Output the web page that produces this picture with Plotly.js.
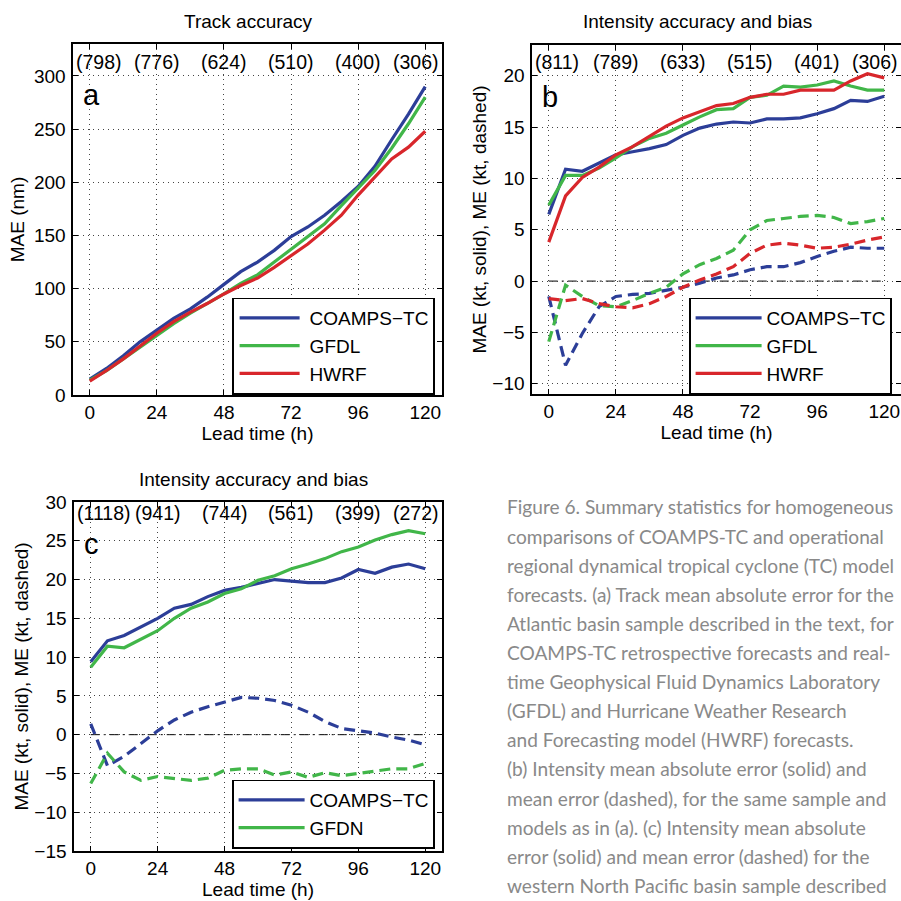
<!DOCTYPE html>
<html>
<head>
<meta charset="utf-8">
<script src="https://cdn.plot.ly/plotly-3.0.1.min.js"></script>
<style>html,body{margin:0;padding:0;background:#fff;}#chart{width:901px;height:901px;}</style>
</head>
<body>
<div id="chart"></div>
<script>
// ---------------- data ----------------
const leadTimes = [0,6,12,18,24,30,36,42,48,54,60,66,72,78,84,90,96,102,108,114,120];
const leadTicks = [0,24,48,72,96,120];

// Panel a: track MAE (nm)
const trackCOAMPS = [15,25,37,50,61,72,81,92,104,116,125,136,149,158,169,182,196,215,240,264,290];
const trackGFDL   = [14,23,34,45,56,67,77,86,95,105,113,125,137,149,161,178,194,211,232,255,280];
const trackHWRF   = [13,23,34,46,58,69,78,86,95,103,110,120,131,142,155,169,188,205,222,233,248];
const countsA = ['(798)','(776)','(624)','(510)','(400)','(306)'];

// Panel b: intensity MAE (solid) and ME (dashed), kt
const maeCOAMPS_b = [6.5,10.9,10.7,11.5,12.3,12.6,12.9,13.3,14.2,14.9,15.3,15.5,15.4,15.8,15.8,15.9,16.3,16.8,17.6,17.5,18.0];
const maeGFDL_b   = [7.4,10.3,10.3,11.0,12.0,13.1,13.9,14.4,15.2,16.0,16.7,16.8,17.9,18.1,19.0,18.9,19.1,19.5,19.0,18.6,18.6];
const maeHWRF_b   = [3.8,8.3,10.1,11.1,12.3,13.1,14.1,15.1,15.9,16.5,17.1,17.3,17.9,18.2,18.2,18.6,18.6,18.6,19.5,20.2,19.8];
const meCOAMPS_b  = [-1.5,-8.2,-5.1,-2.5,-1.5,-1.3,-1.2,-0.9,-0.6,-0.2,0.3,0.6,1.1,1.4,1.4,1.8,2.4,2.9,3.3,3.2,3.2];
const meGFDL_b    = [-5.9,-0.4,-1.5,-2.4,-2.5,-1.9,-1.2,-0.6,0.7,1.6,2.2,3.0,5.0,5.9,6.1,6.3,6.4,6.2,5.6,5.8,6.1];
const meHWRF_b    = [-1.7,-1.9,-1.7,-2.2,-2.5,-2.6,-2.2,-1.5,-0.6,0.1,0.7,1.4,2.7,3.5,3.7,3.5,3.2,3.3,3.6,4.0,4.3];
const countsB = ['(811)','(789)','(633)','(515)','(401)','(306)'];

// Panel c: western North Pacific intensity MAE / ME, kt
const maeCOAMPS_c = [9.4,12.1,12.8,13.9,15.0,16.3,16.8,17.8,18.6,19.0,19.5,20.0,19.8,19.6,19.6,20.2,21.3,20.8,21.6,22.0,21.4];
const maeGFDN_c   = [8.7,11.4,11.2,12.3,13.4,15.0,16.3,17.1,18.2,18.8,19.9,20.5,21.4,22.0,22.7,23.6,24.2,25.1,25.8,26.3,25.9];
const meCOAMPS_c  = [1.4,-4.0,-2.8,-1.1,0.5,1.9,2.9,3.6,4.2,4.8,4.7,4.4,3.8,2.9,1.7,0.8,0.5,0.2,-0.3,-0.7,-1.3];
const meGFDN_c    = [-6.3,-2.4,-4.8,-5.9,-5.4,-5.6,-5.9,-5.6,-4.6,-4.4,-4.4,-5.2,-4.8,-5.5,-4.9,-5.3,-5.0,-4.6,-4.4,-4.4,-3.7];
const countsC = ['(1118)','(941)','(744)','(561)','(399)','(272)'];

const captionLines = [
  'Figure 6. Summary statistics for homogeneous',
  'comparisons of COAMPS-TC and operational',
  'regional dynamical tropical cyclone (TC) model',
  'forecasts. (a) Track mean absolute error for the',
  'Atlantic basin sample described in the text, for',
  'COAMPS-TC retrospective forecasts and real-',
  'time Geophysical Fluid Dynamics Laboratory',
  '(GFDL) and Hurricane Weather Research',
  'and Forecasting model (HWRF) forecasts.',
  '(b) Intensity mean absolute error (solid) and',
  'mean error (dashed), for the same sample and',
  'models as in (a). (c) Intensity mean absolute',
  'error (solid) and mean error (dashed) for the',
  'western North Pacific basin sample described'
];

// ---------------- styles ----------------
const W = 901, H = 901;
const BLUE = '#2c3e98', GREEN = '#41b649', RED = '#d8262b';
const FONT = 'Liberation Sans, Arial, sans-serif';
const LW = 3.2;
const DASH = '11px,6px';
const px = v => v / W;            // horizontal pixel -> paper
const py = v => 1 - v / H;        // vertical pixel -> paper

function line(x, y, color, name, xa, ya, legend, dashed) {
  return {
    type: 'scatter', mode: 'lines', x: x, y: y, name: name,
    xaxis: xa, yaxis: ya, legend: legend,
    showlegend: !dashed,
    line: {color: color, width: LW, dash: dashed ? DASH : 'solid'},
    hoverinfo: 'x+y+name'
  };
}

const traces = [
  line(leadTimes, trackCOAMPS, BLUE,  'COAMPS\u2212TC', 'x',  'y',  'legend',  false),
  line(leadTimes, trackGFDL,   GREEN, 'GFDL',          'x',  'y',  'legend',  false),
  line(leadTimes, trackHWRF,   RED,   'HWRF',          'x',  'y',  'legend',  false),

  line(leadTimes, meCOAMPS_b,  BLUE,  'COAMPS\u2212TC ME', 'x2', 'y2', 'legend2', true),
  line(leadTimes, meGFDL_b,    GREEN, 'GFDL ME',       'x2', 'y2', 'legend2', true),
  line(leadTimes, meHWRF_b,    RED,   'HWRF ME',       'x2', 'y2', 'legend2', true),
  line(leadTimes, maeCOAMPS_b, BLUE,  'COAMPS\u2212TC', 'x2', 'y2', 'legend2', false),
  line(leadTimes, maeGFDL_b,   GREEN, 'GFDL',          'x2', 'y2', 'legend2', false),
  line(leadTimes, maeHWRF_b,   RED,   'HWRF',          'x2', 'y2', 'legend2', false),

  line(leadTimes, meCOAMPS_c,  BLUE,  'COAMPS\u2212TC ME', 'x3', 'y3', 'legend3', true),
  line(leadTimes, meGFDN_c,    GREEN, 'GFDN ME',       'x3', 'y3', 'legend3', true),
  line(leadTimes, maeCOAMPS_c, BLUE,  'COAMPS\u2212TC', 'x3', 'y3', 'legend3', false),
  line(leadTimes, maeGFDN_c,   GREEN, 'GFDN',          'x3', 'y3', 'legend3', false)
];

const tickFont = {family: FONT, size: 19, color: '#000'};
const labelFont = {family: FONT, size: 19, color: '#000'};

function xAxis(domain, anchor) {
  return {
    domain: domain, anchor: anchor, range: [-6, 126],
    tickmode: 'array', tickvals: leadTicks, ticktext: leadTicks.map(String),
    ticks: 'inside', ticklen: 5, tickwidth: 1, tickcolor: '#000',
    showline: true, linecolor: '#000', linewidth: 1.6, mirror: 'ticks',
    showgrid: true, gridcolor: '#444', gridwidth: 1, griddash: '1px,4px',
    zeroline: false, tickfont: tickFont,
    title: {text: 'Lead time (h)', font: labelFont, standoff: 2},
    fixedrange: true
  };
}
function yAxis(domain, anchor, range, dtick, title, standoff) {
  return {
    domain: domain, anchor: anchor, range: range, dtick: dtick, tick0: 0,
    ticks: 'inside', ticklen: 5, tickwidth: 1, tickcolor: '#000',
    showline: true, linecolor: '#000', linewidth: 1.6, mirror: 'ticks',
    showgrid: true, gridcolor: '#444', gridwidth: 1, griddash: '1px,4px',
    zeroline: false, tickfont: tickFont, ticklabelstandoff: 2,
    title: {text: title, font: labelFont, standoff: standoff},
    fixedrange: true
  };
}

const layout = {
  width: W, height: H,
  margin: {l: 0, r: 0, t: 0, b: 0},
  paper_bgcolor: '#fff', plot_bgcolor: '#fff',
  font: {family: FONT, size: 19, color: '#000'},
  xaxis:  xAxis([px(73), px(442)], 'y'),
  yaxis:  yAxis([py(395), py(44)], 'x', [0, 330], 50, 'MAE (nm)', 4),
  xaxis2: xAxis([px(532), px(901)], 'y2'),
  yaxis2: yAxis([py(394), py(45)], 'x2', [-11, 23], 5, 'MAE (kt, solid), ME (kt, dashed)', 1),
  xaxis3: xAxis([px(74), px(442)], 'y3'),
  yaxis3: yAxis([py(851), py(502)], 'x3', [-15, 30], 5, 'MAE (kt, solid), ME (kt, dashed)', 1),
  showlegend: true,
  annotations: [],
  shapes: []
};

const legendStyle = (x, y) => ({
  x: px(x), y: py(y), xanchor: 'left', yanchor: 'middle',
  xref: 'paper', yref: 'paper',
  bgcolor: '#fff', bordercolor: '#000', borderwidth: 1.6,
  font: {family: FONT, size: 19, color: '#000'},
  tracegroupgap: 0, itemwidth: 66, traceorder: 'normal'
});
layout.legend  = legendStyle(232, 346);
layout.legend2 = legendStyle(689, 346);
layout.legend3 = legendStyle(232, 814);

// panel titles
[['Track accuracy', 248, 22], ['Intensity accuracy and bias', 697, 22], ['Intensity accuracy and bias', 253, 479]]
  .forEach(t => layout.annotations.push({text: t[0], x: px(t[1]), y: py(t[2]), xref: 'paper', yref: 'paper',
    xanchor: 'center', yanchor: 'middle', showarrow: false, font: labelFont}));

// sample-size labels along the top of each panel
function counts(labels, xa, ypix) {
  labels.forEach((lab, i) => {
    let x = leadTicks[i], anchor = 'center';
    if (i === 0) { x = -5.5; anchor = 'left'; }
    if (i === labels.length - 1) { x = 125.7; anchor = 'right'; }
    layout.annotations.push({text: lab, x: x, y: py(ypix), xref: xa, yref: 'paper',
      xanchor: anchor, yanchor: 'middle', showarrow: false, font: {family: FONT, size: 19.5, color: '#000'}});
  });
}
counts(countsA, 'x', 62);
counts(countsB, 'x2', 62);
counts(countsC, 'x3', 513);

// panel letters
[['a', 'x', 95], ['b', 'x2', 97], ['c', 'x3', 544]].forEach(l => layout.annotations.push({
  text: l[0], x: -3.3, y: py(l[2]), xref: l[1], yref: 'paper', xanchor: 'left', yanchor: 'middle',
  showarrow: false, font: {family: FONT, size: 29, color: '#000'}}));

// zero reference lines (dash-dot)
[['x2', 'y2'], ['x3', 'y3']].forEach(r => layout.shapes.push({
  type: 'line', xref: r[0], yref: r[1], x0: 0, x1: 120, y0: 0, y1: 0,
  line: {color: '#000', width: 1, dash: '9px,4px,2px,4px'}, layer: 'below'}));

// caption
captionLines.forEach((t, i) => layout.annotations.push({
  text: t, x: px(505), y: py(507 + i * 29.1), xref: 'paper', yref: 'paper',
  xanchor: 'left', yanchor: 'middle', showarrow: false,
  font: {family: 'Lato, "Open Sans", sans-serif', size: 19.1, color: '#898989'}}));

Plotly.newPlot('chart', traces, layout, {displayModeBar: false, staticPlot: true}).then(gd => {
  // lengthen legend line samples to match the reference key
  gd.querySelectorAll('.legend .legendlines path').forEach(p => p.setAttribute('d', 'M6,0h60'));
});
</script>
</body>
</html>
